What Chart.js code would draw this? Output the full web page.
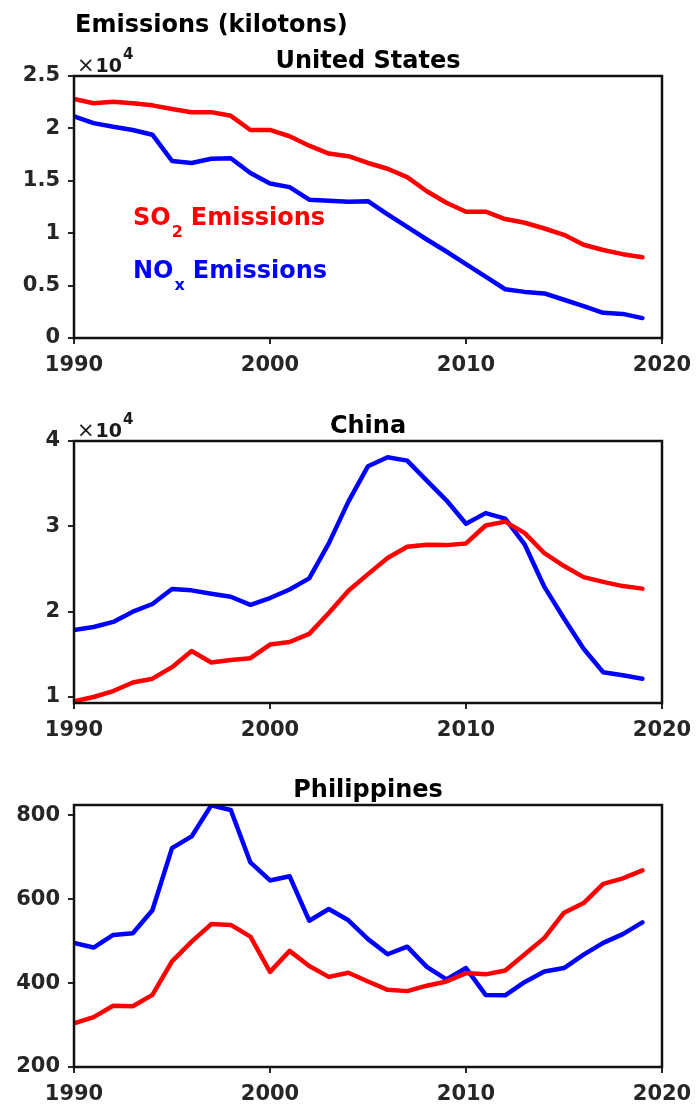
<!DOCTYPE html>
<html>
<head>
<meta charset="utf-8">
<title>Emissions</title>
<script src="https://cdn.jsdelivr.net/npm/chart.js@4.4.1/dist/chart.umd.min.js"></script>
<style>
html, body { margin: 0; padding: 0; background: #fff; overflow: hidden; }
body { width: 696px; height: 1106px; position: relative; }
canvas { position: absolute; left: 0; }
</style>
</head>
<body>
<canvas id="usChart" width="696" height="377" style="top:0px"></canvas>
<canvas id="chinaChart" width="696" height="377" style="top:365px"></canvas>
<canvas id="phChart" width="696" height="377" style="top:729px"></canvas>
<script>
// Years on the x axis
var years = [1990, 1991, 1992, 1993, 1994, 1995, 1996, 1997, 1998, 1999,
             2000, 2001, 2002, 2003, 2004, 2005, 2006, 2007, 2008, 2009,
             2010, 2011, 2012, 2013, 2014, 2015, 2016, 2017, 2018, 2019];
var xTicks = [1990, 2000, 2010, 2020];

// United States (kilotons)
var usSO2 = [22800, 22400, 22550, 22400, 22200, 21850, 21550, 21550, 21200, 19850,
             19850, 19250, 18350, 17600, 17350, 16700, 16150, 15350, 14000, 12900,
             12050, 12050, 11350, 11000, 10450, 9850, 8900, 8400, 8000, 7700];
var usNOx = [21150, 20500, 20150, 19850, 19400, 16900, 16700, 17100, 17150, 15750,
             14750, 14400, 13200, 13100, 13000, 13050, 11800, 10600, 9400, 8250,
             7050, 5850, 4650, 4400, 4250, 3650, 3050, 2400, 2300, 1900];
var usTicks = [0, 5000, 10000, 15000, 20000, 25000];
var usTickLabels = ['0', '0.5', '1', '1.5', '2', '2.5'];

// China (kilotons)
var chinaSO2 = [9500, 10000, 10700, 11700, 12150, 13500, 15400, 14050, 14350, 14550,
                16150, 16450, 17400, 19850, 22450, 24400, 26300, 27600, 27850, 27800,
                28000, 30100, 30550, 29200, 26850, 25350, 24050, 23500, 23000, 22700];
var chinaNOx = [17850, 18200, 18800, 20000, 20900, 22650, 22500, 22100, 21750, 20800,
                21600, 22600, 23900, 28000, 32900, 37050, 38100, 37700, 35350, 33050,
                30300, 31550, 30900, 27850, 22900, 19200, 15650, 12900, 12550, 12150];
var chinaTicks = [10000, 20000, 30000, 40000];
var chinaTickLabels = ['1', '2', '3', '4'];

// Philippines (kilotons)
var phSO2 = [304, 319, 346, 345, 372, 452, 499, 541, 539, 511,
             427, 477, 441, 415, 425, 404, 384, 381, 394, 404,
             424, 421, 430, 469, 508, 568, 591, 637, 650, 669];
var phNOx = [496, 485, 515, 519, 574, 722, 750, 824, 813, 688,
             645, 655, 549, 577, 550, 505, 469, 487, 439, 409,
             436, 372, 371, 403, 428, 436, 468, 496, 517, 545];
var phTicks = [200, 400, 600, 800];
var phTickLabels = ['200', '400', '600', '800'];

var FONT = '"DejaVu Sans", sans-serif';
var AXIS_COLOR = '#262626';

// Frame, panel title, x10^4 marker and the in-plot notes
var panelDecor = {
    id: 'panelDecor',
    afterDatasetsDraw: function(chart, args, opts) {
        var ctx = chart.ctx;
        var a = chart.chartArea;
        ctx.save();
        ctx.strokeStyle = '#111';
        ctx.lineWidth = 2.5;
        ctx.strokeRect(a.left, a.top, a.right - a.left, a.bottom - a.top);

        ctx.fillStyle = '#000';
        ctx.textBaseline = 'alphabetic';
        ctx.textAlign = 'center';
        ctx.font = 'bold 24px ' + FONT;
        ctx.fillText(opts.title, (a.left + a.right) / 2, a.top - 8);

        ctx.textAlign = 'left';
        if (opts.heading) {
            ctx.font = 'bold 24px ' + FONT;
            ctx.fillText(opts.heading, a.left + 1, 32);
        }
        if (opts.exponent) {
            ctx.fillStyle = '#1a1a1a';
            ctx.font = '21px ' + FONT;
            ctx.fillText('\u00d7', a.left + 3, a.top - 4);
            var wx = ctx.measureText('\u00d7').width;
            ctx.font = 'bold 19px ' + FONT;
            ctx.fillText('10', a.left + 4 + wx, a.top - 4);
            var w10 = ctx.measureText('10').width;
            ctx.font = 'bold 15px ' + FONT;
            ctx.fillText(opts.exponent, a.left + 5 + wx + w10, a.top - 17);
        }
        (opts.notes || []).forEach(function(n) {
            ctx.fillStyle = n.color;
            ctx.font = 'bold 24px ' + FONT;
            ctx.fillText(n.text, n.x, n.y);
            var w1 = ctx.measureText(n.text).width;
            ctx.font = 'bold 16px ' + FONT;
            ctx.fillText(n.sub, n.x + w1 + 1, n.y + 12);
            var w2 = ctx.measureText(n.sub).width;
            ctx.font = 'bold 24px ' + FONT;
            ctx.fillText(n.rest, n.x + w1 + w2 + 9, n.y);
        });
        ctx.restore();
    }
};

function toPoints(values) {
    return years.map(function(yr, i) {
        return { x: yr, y: values[i] };
    });
}

function makeChart(canvasId, so2, nox, yMin, yMax, tickValues, tickLabels, decor) {
    var tickFont = { family: FONT, size: 21, weight: 'bold' };
    var gridOpts = { drawOnChartArea: false, drawTicks: true, tickLength: 6, lineWidth: 2, color: AXIS_COLOR };
    return new Chart(document.getElementById(canvasId), {
        type: 'line',
        data: {
            datasets: [
                { label: 'SO2', data: toPoints(so2), borderColor: '#ff0000', borderWidth: 4.5, pointRadius: 0, tension: 0, borderJoinStyle: 'round', borderCapStyle: 'round' },
                { label: 'NOx', data: toPoints(nox), borderColor: '#0000ff', borderWidth: 4.5, pointRadius: 0, tension: 0, borderJoinStyle: 'round', borderCapStyle: 'round' }
            ]
        },
        options: {
            responsive: false,
            animation: false,
            devicePixelRatio: 1,
            layout: { padding: { top: 76, left: 0, right: 34, bottom: 0 } },
            scales: {
                x: {
                    type: 'linear',
                    min: 1990,
                    max: 2020,
                    afterBuildTicks: function(s) { s.ticks = xTicks.map(function(v) { return { value: v }; }); },
                    afterFit: function(s) {
                        s.height = 39;
                        // let the end labels overhang the plot edges
                        s.paddingLeft = 0;
                        s.paddingRight = 0;
                    },
                    ticks: { callback: function(v) { return String(v); }, font: tickFont, color: AXIS_COLOR, padding: 9, maxRotation: 0 },
                    grid: gridOpts,
                    border: { display: false }
                },
                y: {
                    min: yMin,
                    max: yMax,
                    afterBuildTicks: function(s) { s.ticks = tickValues.map(function(v) { return { value: v }; }); },
                    afterFit: function(s) { s.width = 74; },
                    ticks: {
                        callback: function(v) { return tickLabels[tickValues.indexOf(v)]; },
                        font: tickFont, color: AXIS_COLOR, padding: 8
                    },
                    grid: gridOpts,
                    border: { display: false }
                }
            },
            plugins: {
                legend: { display: false },
                tooltip: { enabled: false },
                panelDecor: decor
            }
        },
        plugins: [panelDecor]
    });
}

makeChart('usChart', usSO2, usNOx, 0, 25000, usTicks, usTickLabels, {
    title: 'United States',
    heading: 'Emissions (kilotons)',
    exponent: '4',
    notes: [
        { text: 'SO', sub: '2', rest: 'Emissions', color: '#ff0000', x: 133, y: 225 },
        { text: 'NO', sub: 'x', rest: 'Emissions', color: '#0000ff', x: 133, y: 278 }
    ]
});
makeChart('chinaChart', chinaSO2, chinaNOx, 9300, 40000, chinaTicks, chinaTickLabels, {
    title: 'China',
    exponent: '4'
});
makeChart('phChart', phSO2, phNOx, 200, 825, phTicks, phTickLabels, {
    title: 'Philippines'
});
</script>
</body>
</html>
